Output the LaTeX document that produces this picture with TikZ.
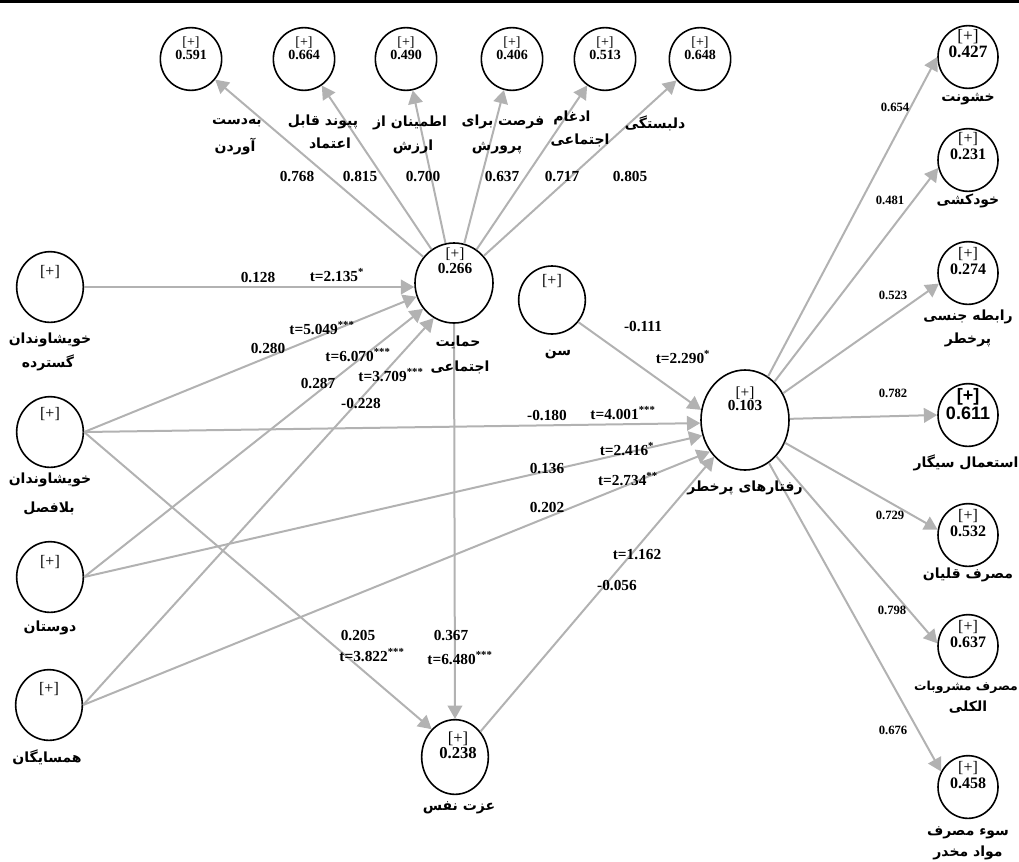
\documentclass[tikz,border=0pt]{standalone}
\usepackage{fontspec}
\setmainfont{Liberation Serif}
\newfontfamily\fa[Script=Arabic]{DejaVu Sans}
\newfontfamily\arialf{Liberation Sans}
\TeXXeTstate=1
\usetikzlibrary{shapes.geometric,arrows.meta}
\newcommand{\rtlx}[1]{\beginR #1\endR}
\newcommand{\st}[1]{\textsuperscript{#1}}
\definecolor{lgray}{RGB}{178,178,178}
\begin{document}
\begin{tikzpicture}[x=0.75pt,y=-0.75pt,
 lat/.style={ellipse,draw=black,line width=1.2pt,inner sep=0pt},
 topc/.style={lat,minimum width=46pt,minimum height=47pt},
 leftc/.style={lat,minimum width=50pt,minimum height=53pt},
 rightc/.style={lat,minimum width=45pt,minimum height=47pt},
 arr/.style={draw=lgray,line width=1.5pt,-{Triangle[length=10pt,width=11pt]}},
 pl/.style={font=\fontsize{11.5}{13}\selectfont\bfseries,inner sep=0pt},
 ld/.style={font=\fontsize{9.5}{11}\selectfont\bfseries,inner sep=0pt},
 fa/.style={font=\fa\bfseries\fontsize{10.5}{12}\selectfont,inner sep=0pt},
 ctop/.style={align=center,inner sep=0pt,font=\fontsize{10.5}{9.5}\selectfont},
 cmid/.style={align=center,inner sep=0pt,font=\fontsize{11.5}{11}\selectfont},
 cright/.style={align=center,inner sep=0pt,font=\fontsize{12}{11.5}\selectfont},
 cplus/.style={inner sep=0pt,font=\fontsize{12}{12}\selectfont}]
\useasboundingbox (0,0) rectangle (1019,861);
\draw[line width=2.5pt] (0,1.5) -- (1019,1.5);

% top indicator circles
\node[topc] (t1) at (191,59) {};
\node[topc] (t2) at (304,59) {};
\node[topc] (t3) at (406,59) {};
\node[topc] (t4) at (512,59) {};
\node[topc] (t5) at (605,59) {};
\node[topc] (t6) at (700,59) {};
\node[ctop] (t1v) at (191,48) {[+]\\\textbf{0.591}};
\node[ctop] (t2v) at (304,48) {[+]\\\textbf{0.664}};
\node[ctop] (t3v) at (406,48) {[+]\\\textbf{0.490}};
\node[ctop] (t4v) at (512,48) {[+]\\\textbf{0.406}};
\node[ctop] (t5v) at (605,48) {[+]\\\textbf{0.513}};
\node[ctop] (t6v) at (700,48) {[+]\\\textbf{0.648}};

% left exogenous
\node[leftc] (ext) at (50,287) {};
\node[leftc] (imm) at (50,432) {};
\node[leftc] (fri) at (50,577) {};
\node[leftc] (nei) at (49,705) {};
\node[cplus] (extv) at (50,272) {[+]};
\node[cplus] (immv) at (50,414) {[+]};
\node[cplus] (friv) at (50,562) {[+]};
\node[cplus] (neiv) at (49,689) {[+]};

% central
\node[lat,minimum width=58.5pt,minimum height=60pt] (sup) at (454,283) {};
\node[cmid] (supv) at (455,261) {[+]\\\textbf{0.266}};
\node[lat,minimum width=50pt,minimum height=51pt] (age) at (552,300) {};
\node[cplus] (agev) at (552,281) {[+]};
\node[lat,minimum width=66pt,minimum height=75pt] (risk) at (745,420) {};
\node[cmid,font=\fontsize{11.5}{10}\selectfont] (riskv) at (745,399) {[+]\\\textbf{0.103}};
\node[lat,minimum width=50pt,minimum height=56pt] (se) at (455,757) {};
\node[cmid,font=\fontsize{12.5}{11.5}\selectfont] (sev) at (458,745) {[+]\\\textbf{0.238}};

% right indicators
\node[rightc] (r1) at (968,57) {};
\node[rightc] (r2) at (968,160) {};
\node[rightc] (r3) at (968,273) {};
\node[rightc] (r4) at (968,415) {};
\node[rightc] (r5) at (968,535) {};
\node[rightc] (r6) at (968,646) {};
\node[rightc] (r7) at (968,787) {};
\node[cright,font=\fontsize{13}{12}\selectfont] (r1v) at (968,44) {[+]\\\textbf{0.427}};
\node[cright] (r2v) at (968,146) {[+]\\\textbf{0.231}};
\node[cright] (r3v) at (968,261) {[+]\\\textbf{0.274}};
\node[cright,font=\arialf\fontsize{13.5}{12}\selectfont\bfseries] (r4v) at (968,404) {[+]\\0.611};
\node[cright] (r5v) at (968,523) {[+]\\\textbf{0.532}};
\node[cright] (r6v) at (968,634) {[+]\\\textbf{0.637}};
\node[cright] (r7v) at (968,775) {[+]\\\textbf{0.458}};

% connectors
\draw[arr] (sup) -- (t1);
\draw[arr] (sup) -- (t2);
\draw[arr] (sup) -- (t3);
\draw[arr] (sup) -- (t4);
\draw[arr] (sup) -- (t5);
\draw[arr] (sup) -- (t6);
\draw[arr] (ext.east) -- (ext.east -| sup.west);
\draw[arr] (imm.east) -- (sup.200);
\draw[arr] (fri.east) -- (sup.220);
\draw[arr] (nei.east) -- (sup.240);
\draw[arr] (imm.east) -- (risk.184);
\draw[arr] (fri.east) -- (risk.200);
\draw[arr] (nei.east) -- (risk.222);
\draw[arr] (age.-40) -- (risk.167);
\draw[arr] (se.45) -- (risk.230);
\draw[arr] (imm.east) -- (se.130);
\draw[arr] (sup.south) -- (se.north);
\draw[arr] (risk) -- (r1.180);
\draw[arr] (risk) -- (r2.195);
\draw[arr] (risk) -- (r3.200);
\draw[arr] (risk) -- (r4.west);
\draw[arr] (risk) -- (r5.170);
\draw[arr] (risk) -- (r6.175);
\draw[arr] (risk) -- (r7.150);

% path labels
\node[pl] (l1a) at (258,278) {0.128};
\node[pl] (l1b) at (337,275) {t=2.135\st{*}};
\node[pl] (l2b) at (322,328) {t=5.049\st{***}};
\node[pl] (l2a) at (268,348) {0.280};
\node[pl] (l3b) at (358,355) {t=6.070\st{***}};
\node[pl] (l3a) at (318,383) {0.287};
\node[pl] (l4b) at (391,375) {t=3.709\st{***}};
\node[pl] (l4a) at (361,403) {-0.228};
\node[pl] (l5a) at (643,326) {-0.111};
\node[pl] (l5b) at (683,357) {t=2.290\st{*}};
\node[pl] (l6a) at (547,415) {-0.180};
\node[pl] (l6b) at (623,413) {t=4.001\st{***}};
\node[pl] (l7b) at (627,449) {t=2.416\st{*}};
\node[pl] (l7a) at (547,468) {0.136};
\node[pl] (l8b) at (628,479) {t=2.734\st{**}};
\node[pl] (l8a) at (547,507) {0.202};
\node[pl] (l9b) at (637,555) {t=1.162};
\node[pl] (l9a) at (617,585) {-0.056};
\node[pl] (l10a) at (358,635) {0.205};
\node[pl] (l10b) at (372,655) {t=3.822\st{***}};
\node[pl] (l11a) at (451,635) {0.367};
\node[pl] (l11b) at (460,658) {t=6.480\st{***}};
% top loadings
\node[pl] (k1) at (297,177) {0.768};
\node[pl] (k2) at (360,177) {0.815};
\node[pl] (k3) at (423,177) {0.700};
\node[pl] (k4) at (502,177) {0.637};
\node[pl] (k5) at (562,177) {0.717};
\node[pl] (k6) at (630,177) {0.805};
% right loadings
\node[ld] (m1) at (895,107) {0.654};
\node[ld] (m2) at (890,200) {0.481};
\node[ld] (m3) at (893,295) {0.523};
\node[ld] (m4) at (893,393) {0.782};
\node[ld] (m5) at (890,515) {0.729};
\node[ld] (m6) at (892,610) {0.798};
\node[ld] (m7) at (893,730) {0.676};

% Persian labels: top
\node[fa] (f1a) at (237,123) {\rtlx{به‌دست}};
\node[fa] (f1b) at (235,147) {\rtlx{آوردن}};
\node[fa] (f2a) at (323,122) {\rtlx{پیوند قابل}};
\node[fa] (f2b) at (330,143) {\rtlx{اعتماد}};
\node[fa] (f3a) at (410,123) {\rtlx{اطمینان از}};
\node[fa] (f3b) at (413,147) {\rtlx{ارزش}};
\node[fa] (f4a) at (503,122) {\rtlx{فرصت برای}};
\node[fa] (f4b) at (497,148) {\rtlx{پرورش}};
\node[fa] (f5a) at (572,118) {\rtlx{ادغام}};
\node[fa] (f5b) at (580,140) {\rtlx{اجتماعی}};
\node[fa] (f6a) at (655,123) {\rtlx{دلبستگی}};
% left
\node[fa] (g1a) at (50,340) {\rtlx{خویشاوندان}};
\node[fa] (g1b) at (48,363) {\rtlx{گسترده}};
\node[fa] (g2a) at (50,480) {\rtlx{خویشاوندان}};
\node[fa] (g2b) at (49,508) {\rtlx{بلافصل}};
\node[fa] (g3) at (50,628) {\rtlx{دوستان}};
\node[fa] (g4) at (47,757) {\rtlx{همسایگان}};
% centre
\node[fa] (h1a) at (458,342) {\rtlx{حمایت}};
\node[fa] (h1b) at (460,367) {\rtlx{اجتماعی}};
\node[fa] (h2) at (558,355) {\rtlx{سن}};
\node[fa] (h3) at (745,488) {\rtlx{رفتارهای پرخطر}};
\node[fa] (h4) at (459,808) {\rtlx{عزت نفس}};
% right
\node[fa] (q1) at (968,99) {\rtlx{خشونت}};
\node[fa] (q2) at (968,201) {\rtlx{خودکشی}};
\node[fa] (q3a) at (968,317) {\rtlx{رابطه جنسی}};
\node[fa] (q3b) at (968,340) {\rtlx{پرخطر}};
\node[fa] (q4) at (966,463) {\rtlx{استعمال سیگار}};
\node[fa] (q5) at (968,575) {\rtlx{مصرف قلیان}};
\node[fa,font=\fa\bfseries\fontsize{9.3}{11}\selectfont] (q6a) at (966,687) {\rtlx{مصرف مشروبات}};
\node[fa] (q6b) at (968,707) {\rtlx{الکلی}};
\node[fa] (q7a) at (968,833) {\rtlx{سوء مصرف}};
\node[fa] (q7b) at (968,853) {\rtlx{مواد مخدر}};
\end{tikzpicture}
\end{document}
